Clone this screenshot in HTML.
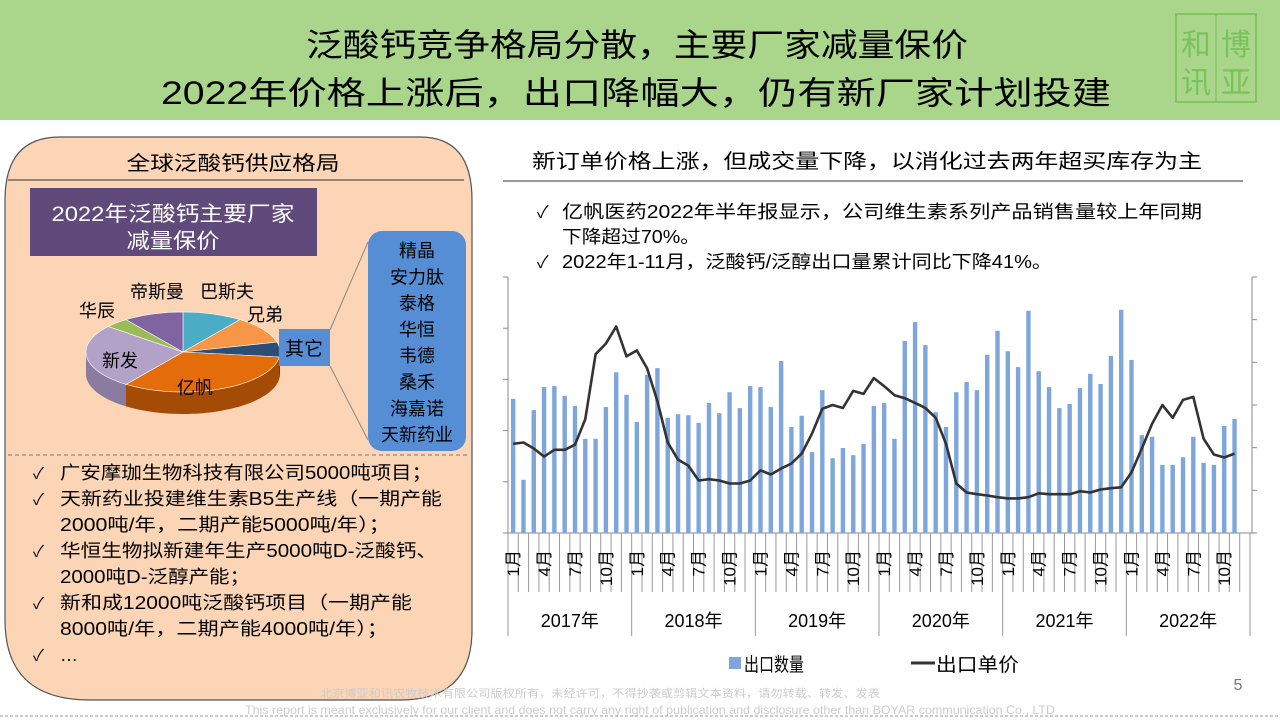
<!DOCTYPE html>
<html><head><meta charset="utf-8"><style>
html,body{margin:0;padding:0;width:1280px;height:720px;overflow:hidden;background:#fff}
svg{display:block}
text{font-family:"Liberation Sans","Noto Sans CJK SC",sans-serif}
</style></head><body>
<svg id="slide" width="1280" height="720" viewBox="0 0 1280 720" xmlns="http://www.w3.org/2000/svg">
<rect x="0" y="0" width="1280" height="120" fill="#a9d68b"/>
<text x="637" y="56" font-size="32" text-anchor="middle" textLength="662" lengthAdjust="spacingAndGlyphs">泛酸钙竞争格局分散，主要厂家减量保价</text>
<text x="636" y="104" font-size="32" text-anchor="middle" textLength="950" lengthAdjust="spacingAndGlyphs">2022年价格上涨后，出口降幅大，仍有新厂家计划投建</text>
<g opacity="0.8">
<rect x="1176" y="14" width="80" height="88" fill="none" stroke="#7cc25a" stroke-width="2"/>
<line x1="1216" y1="14" x2="1216" y2="102" stroke="#7cc25a" stroke-width="1.5"/>
<text x="1196" y="55" font-size="30" fill="#6fbf4f" text-anchor="middle">和</text>
<text x="1236" y="55" font-size="30" fill="#6fbf4f" text-anchor="middle">博</text>
<text x="1196" y="93" font-size="30" fill="#6fbf4f" text-anchor="middle">讯</text>
<text x="1236" y="93" font-size="30" fill="#6fbf4f" text-anchor="middle">亚</text>
</g>

<path d="M60,137 L420,137 Q472,137 472,200 L472,630 Q472,700 400,700 L90,700 Q5,700 5,620 L5,200 Q5,137 60,137 Z" fill="#fbd5b5" stroke="#555" stroke-width="1.2"/>
<text x="233" y="170" font-size="20" text-anchor="middle" textLength="213" lengthAdjust="spacingAndGlyphs">全球泛酸钙供应格局</text>
<line x1="8" y1="180" x2="464" y2="180" stroke="#333" stroke-width="1"/>
<rect x="30" y="188" width="287" height="68" fill="#604a7b"/>
<text x="173" y="221" font-size="21" fill="#fff" text-anchor="middle" textLength="243" lengthAdjust="spacingAndGlyphs">2022年泛酸钙主要厂家</text>
<text x="173" y="248" font-size="21" fill="#fff" text-anchor="middle" textLength="93" lengthAdjust="spacingAndGlyphs">减量保价</text>

<g id="pie"></g>

<line x1="330" y1="330" x2="368" y2="242" stroke="#888" stroke-width="1"/>
<line x1="330" y1="366" x2="368" y2="440" stroke="#888" stroke-width="1"/>
<rect x="279" y="329" width="51" height="37" fill="#558ed5"/>
<text x="304" y="355" font-size="19" text-anchor="middle">其它</text>
<rect x="368" y="231" width="98" height="220" rx="14" fill="#558ed5"/>
<g id="otherslist" font-size="18" text-anchor="middle"></g>

<line x1="8" y1="455" x2="468" y2="455" stroke="#777" stroke-dasharray="4,3" stroke-width="1"/>
<g id="leftbullets" font-size="18"></g>

<text x="867" y="168" font-size="20" text-anchor="middle" textLength="670" lengthAdjust="spacingAndGlyphs">新订单价格上涨，但成交量下降，以消化过去两年超买库存为主</text>
<line x1="503" y1="181" x2="1243" y2="181" stroke="#333" stroke-width="1"/>
<text x="537" y="218" font-size="17">✓</text>
<text x="562" y="218" font-size="18" textLength="640" lengthAdjust="spacingAndGlyphs">亿帆医药2022年半年报显示，公司维生素系列产品销售量较上年同期</text>
<text x="562" y="243" font-size="18" textLength="138" lengthAdjust="spacingAndGlyphs">下降超过70%。</text>
<text x="537" y="268" font-size="17">✓</text>
<text x="562" y="268" font-size="18" textLength="490" lengthAdjust="spacingAndGlyphs">2022年1-11月，泛酸钙/泛醇出口量累计同比下降41%。</text>

<g id="chart"></g>

<rect x="729" y="657" width="12" height="12" fill="#7ea6dc"/>
<text x="744" y="671" font-size="19" textLength="60" lengthAdjust="spacingAndGlyphs">出口数量</text>
<line x1="911" y1="663" x2="935" y2="663" stroke="#333" stroke-width="3"/>
<text x="936" y="671" font-size="19" textLength="83" lengthAdjust="spacingAndGlyphs">出口单价</text>

<text x="1238" y="690" font-size="16" fill="#777" text-anchor="middle">5</text>
<text x="600" y="697" font-size="11" fill="#ccc" text-anchor="middle" font-family="Liberation Serif,Noto Serif CJK SC,serif" textLength="560" lengthAdjust="spacingAndGlyphs">北京博亚和讯农牧技术有限公司版权所有，未经许可，不得抄袭或剪辑文本资料，请勿转载、转发、发表</text>
<text x="650" y="714" font-size="12" fill="#ccc" text-anchor="middle" font-family="Liberation Serif,serif" textLength="810" lengthAdjust="spacingAndGlyphs">This report is meant exclusively for our client and does not carry any right of publication and disclosure other than BOYAR communication Co., LTD</text>
<line x1="0" y1="716" x2="1280" y2="716" stroke="#999" stroke-dasharray="3,2" stroke-width="1"/>
</svg>
<script>
const NS='http://www.w3.org/2000/svg';
function mk(tag,attrs,parent){const e=document.createElementNS(NS,tag);for(const k in attrs)e.setAttribute(k,attrs[k]);parent.appendChild(e);return e;}

const years=['2017年','2018年','2019年','2020年','2021年','2022年'];
const monthTicks=['1月','4月','7月','10月'];
const exportQty=[2620,1040,2400,2850,2870,2680,2480,1840,1840,2460,3140,2700,
2170,3090,3220,2250,2320,2300,2150,2540,2340,2750,2440,2870,
2850,2460,3360,2070,2290,1580,2790,1460,1660,1520,1740,2480,
2540,1840,3750,4120,3670,2360,2070,2750,2950,2790,3480,3950,
3550,3240,4340,3160,2850,2440,2520,2830,3110,2910,3460,4360,
3380,1910,1880,1330,1330,1480,1880,1370,1330,2090,2230];
const exportPrice=[2.09,2.12,1.98,1.79,1.95,1.95,2.07,2.67,4.19,4.44,4.84,4.14,
4.28,3.86,3.09,2.12,1.72,1.58,1.23,1.26,1.23,1.16,1.16,1.23,
1.47,1.37,1.51,1.63,1.86,2.33,2.91,3.0,2.93,3.33,3.26,3.63,
3.44,3.23,3.16,3.05,2.93,2.70,2.09,1.16,0.95,0.91,0.88,0.84,
0.81,0.81,0.84,0.93,0.91,0.91,0.91,0.98,0.95,1.02,1.05,1.07,
1.42,1.98,2.56,3.0,2.70,3.12,3.19,2.21,1.84,1.77,1.86];
const leftTicks=[0,1000,2000,3000,4000,5000];
const rightTicks=[0,1,2,3,4,5,6];

const pieNames=['巴斯夫','兄弟','其它','亿帆','新发','华辰','帝斯曼'];
const pieShares=[10,11,6,33,26,4,10];
const pieColors=['#4bacc6','#f79646','#2c4d75','#e46c0a','#b3a2c7','#9bbb59','#8064a2'];
const pieSide=['#2f8aa3','#c8732f','#1b3350','#a44c06','#8a7ba0','#789443','#5f4a7c'];

const chart=document.getElementById('chart');
const X0=508,X1=1250,Y0=533,N=72,slot=(X1-X0)/N;
const xOf=i=>X0+(i+0.5)*slot;
const yL=v=>Y0-v*(256/5000);
const yR=v=>Y0-v*(256/6);

const la=mk('line',{x1:X0,y1:yL(5000),x2:X0,y2:Y0,stroke:'#888','stroke-width':1},chart);


leftTicks.forEach(t=>{mk('line',{x1:X0-5,x2:X0,y1:yL(t),y2:yL(t),stroke:'#888'},chart);});
const ra=mk('line',{x1:X1+2,y1:yR(6),x2:X1+2,y2:Y0,stroke:'#888','stroke-width':1},chart);


rightTicks.forEach(t=>{mk('line',{x1:X1+2,x2:X1+7,y1:yR(t),y2:yR(t),stroke:'#888'},chart);});
const xa=mk('line',{x1:X0,y1:Y0,x2:X1+2,y2:Y0,stroke:'#888','stroke-width':1},chart);



exportQty.forEach((v,i)=>{
  const b=mk('rect',{x:xOf(i)-2.2,y:yL(v),width:4.4,height:Y0-yL(v),fill:'#7ea6dc'},chart);
  
  
});
const pts=exportPrice.map((v,i)=>xOf(i).toFixed(1)+','+yR(v).toFixed(1)).join(' ');
const pl=mk('polyline',{points:pts,fill:'none',stroke:'#333','stroke-width':2.6,'stroke-linejoin':'round'},chart);



for(let i=0;i<=N;i++){
  const x=X0+i*slot;
  const yr=(i%12===0);
  mk('line',{x1:x,x2:x,y1:Y0,y2:yr?636:592,stroke:'#999','stroke-width':1},chart);
}
years.forEach((y,k)=>{
  for(let m=0;m<4;m++){
    const i=k*12+m*3;
    const t=mk('text',{x:0,y:0,'font-size':17,'text-anchor':'end',transform:`translate(${xOf(i)+6},550) rotate(-90)`},chart);
    t.textContent=monthTicks[m];
    
    
  }
  const t=mk('text',{x:X0+(k*12+6)*slot,y:627,'font-size':18,'text-anchor':'middle'},chart);
  t.textContent=y;
  
  
});

const pie=document.getElementById('pie');
const cx=183,cy=352,rx=97,ry=40,dep=22;
const P=(a,dy)=>[cx+rx*Math.sin(a*Math.PI/180),cy-ry*Math.cos(a*Math.PI/180)+(dy||0)];
const total=pieShares.reduce((a,b)=>a+b,0);
let acc=0;const ranges=pieShares.map(s=>{const a=acc*360/total;acc+=s;return [a,acc*360/total];});
function arcPts(a,b,dy){const r=[];const n=Math.max(2,Math.ceil((b-a)/3));for(let k=0;k<=n;k++){r.push(P(a+(b-a)*k/n,dy));}return r;}
ranges.forEach((r,i)=>{
  const a=Math.max(r[0],90),b=Math.min(r[1],270);
  if(b<=a)return;
  const top=arcPts(a,b,0),bot=arcPts(a,b,dep).reverse();
  const d='M'+top.concat(bot).map(p=>p[0].toFixed(1)+','+p[1].toFixed(1)).join(' L')+' Z';
  const s=mk('path',{d:d,fill:pieSide[i]},pie);
  
  
});
ranges.forEach((r,i)=>{
  const pts=[[cx,cy]].concat(arcPts(r[0],r[1],0));
  const d='M'+pts.map(p=>p[0].toFixed(1)+','+p[1].toFixed(1)).join(' L')+' Z';
  const s=mk('path',{d:d,fill:pieColors[i],stroke:'#fff','stroke-width':0.6},pie);
  
  
});
const pieLabelPos=[[227,298],[265,321],null,[195,394],[120,367],[97,317],[157,298]];
pieNames.forEach((n,i)=>{
  if(!pieLabelPos[i])return;
  const t=mk('text',{x:pieLabelPos[i][0],y:pieLabelPos[i][1],'font-size':18,'text-anchor':'middle'},pie);
  t.textContent=n;
  
  
});

const others=['精晶','安力肽','泰格','华恒','韦德','桑禾','海嘉诺','天新药业'];
const ol=document.getElementById('otherslist');
others.forEach((o,i)=>{
  const t=mk('text',{x:417,y:257+i*26.3},ol);
  t.textContent=o;
  
  
});

const lb=document.getElementById('leftbullets');
const lines=[['✓','广安摩珈生物科技有限公司5000吨项目；',372],['✓','天新药业投建维生素B5生产线（一期产能',382],['','2000吨/年，二期产能5000吨/年）；',330],['✓','华恒生物拟新建年生产5000吨D-泛酸钙、',377],['','2000吨D-泛醇产能；',190],['✓','新和成12000吨泛酸钙项目（一期产能',352],['','8000吨/年，二期产能4000吨/年）；',328],['✓','…',18]];
lines.forEach((l,i)=>{
  const y=479+i*26;
  if(l[0]){const c=mk('text',{x:33,y:y,'font-size':16},lb);c.textContent=l[0];
    
    }
  const t=mk('text',{x:60,y:y,textLength:l[2],lengthAdjust:'spacingAndGlyphs'},lb);
  t.textContent=l[1];
  
  
});
</script>
</body></html>
